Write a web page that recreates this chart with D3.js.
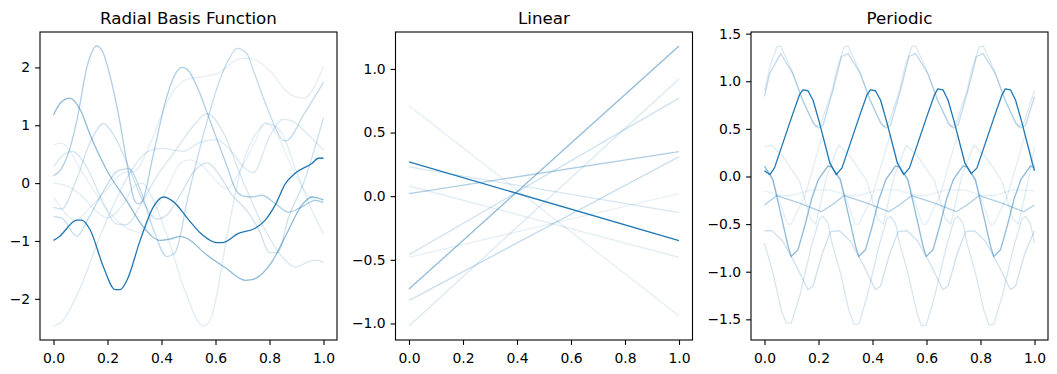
<!DOCTYPE html>
<html>
<head>
<meta charset="utf-8">
<script src="https://cdn.jsdelivr.net/npm/d3@7"></script>
<style>
  body { margin: 0; background: #fff; }
  text { font-family: "DejaVu Sans", sans-serif; }
</style>
</head>
<body>
<svg id="chart"></svg>
<script>
// sample colour (matplotlib C0) and per-sample opacity
const sampleColor = "#1f77b4";
const sampleAlpha = [1, 0.5, 0.36, 0.27, 0.22, 0.18, 0.16, 0.14, 0.12, 0.11];

const panelTitles = ["Radial Basis Function", "Linear", "Periodic"];
const xTicks = [0, 0.2, 0.4, 0.6, 0.8, 1.0];
const rbfTicks = [-2, -1, 0, 1, 2];
const linearTicks = [-1.0, -0.5, 0.0, 0.5, 1.0];
const periodicTicks = [-1.5, -1.0, -0.5, 0.0, 0.5, 1.0, 1.5];

// RBF samples, [x, f(x)], darkest first
const rbf0 = [[0,-0.99],[0.02,-0.93],[0.087,-0.64],[0.105,-0.64],[0.136,-0.81],[0.185,-1.45],[0.228,-1.84],[0.247,-1.84],[0.272,-1.68],[0.321,-0.99],[0.37,-0.41],[0.407,-0.24],[0.444,-0.32],[0.5,-0.63],[0.55,-0.89],[0.605,-1.03],[0.624,-1.03],[0.685,-0.87],[0.747,-0.78],[0.784,-0.64],[0.821,-0.38],[0.86,0.0],[0.895,0.17],[0.957,0.34],[0.981,0.43],[1,0.43]];
const rbf1 = [[0,1.18],[0.025,1.38],[0.06,1.47],[0.1,1.26],[0.136,0.83],[0.2,0.2],[0.27,-0.3],[0.333,-0.76],[0.395,-0.99],[0.43,-0.97],[0.469,-0.92],[0.5,-0.97],[0.562,-1.22],[0.636,-1.46],[0.71,-1.68],[0.734,-1.67],[0.809,-1.36],[0.858,-0.93],[0.92,-0.38],[0.957,-0.24],[0.98,-0.26],[1,-0.29]];
const rbf2 = [[0,0.13],[0.025,0.22],[0.05,0.45],[0.087,1.09],[0.124,2.01],[0.16,2.37],[0.185,2.24],[0.21,1.84],[0.247,1.03],[0.272,0.34],[0.3,-0.3],[0.315,-0.36],[0.33,-0.3],[0.37,0.5],[0.42,1.5],[0.457,1.93],[0.475,2.0],[0.494,1.97],[0.537,1.61],[0.574,1.15],[0.611,0.69],[0.648,0.22],[0.673,-0.1],[0.7,-0.22],[0.735,-0.24],[0.772,-0.21],[0.821,-0.35],[0.87,-0.5],[0.92,-0.41],[0.969,-0.3],[1,-0.33]];
const rbf3 = [[0,-0.58],[0.03,-0.6],[0.086,-0.92],[0.13,-0.6],[0.19,-0.1],[0.24,0.22],[0.28,0.25],[0.32,-0.1],[0.37,-0.8],[0.42,-1.27],[0.45,-1.2],[0.5,-0.2],[0.56,0.92],[0.611,1.72],[0.648,2.13],[0.68,2.33],[0.716,2.24],[0.74,1.95],[0.795,1.26],[0.85,0.74],[0.86,0.73],[0.93,1.21],[1,1.74]];
const rbf4 = [[0,-0.42],[0.03,-0.45],[0.08,0.0],[0.14,0.75],[0.185,1.03],[0.22,0.85],[0.284,0.22],[0.33,-0.3],[0.383,-0.62],[0.42,-0.55],[0.47,-0.2],[0.52,0.2],[0.57,0.35],[0.62,0.1],[0.66,-0.2],[0.72,-0.5],[0.76,-0.8],[0.8,-1.2],[0.83,-1.2],[0.87,-0.6],[0.93,0.05],[1,1.13]];
const rbf5 = [[0,0.28],[0.04,0.5],[0.07,0.55],[0.12,0.3],[0.18,-0.3],[0.23,-0.7],[0.27,-0.72],[0.32,-0.4],[0.38,0.1],[0.45,0.55],[0.52,1.0],[0.57,1.2],[0.62,0.95],[0.7,0.05],[0.784,-0.81],[0.846,-1.27],[0.895,-1.45],[0.95,-1.35],[0.98,-1.33],[1,-1.38]];
const rbf6 = [[0,-2.47],[0.03,-2.4],[0.1,-1.8],[0.17,-0.95],[0.24,-0.2],[0.3,0.3],[0.35,0.55],[0.4,0.6],[0.48,0.55],[0.54,0.7],[0.6,0.75],[0.65,0.6],[0.7,0.3],[0.74,0.18],[0.8,0.8],[0.85,1.1],[0.88,1.08],[0.94,0.85],[1,0.57]];
const rbf7 = [[0,0.0],[0.05,-0.05],[0.1,-0.2],[0.15,-0.45],[0.2,-0.6],[0.26,-0.35],[0.3,-0.05],[0.33,0.0],[0.37,-0.3],[0.42,-0.9],[0.49,-1.9],[0.555,-2.47],[0.58,-2.37],[0.647,-0.81],[0.684,0.05],[0.75,0.86],[0.79,1.03],[0.84,0.9],[0.9,0.2],[0.95,-0.4],[1,-0.88]];
const rbf8 = [[0,-0.24],[0.04,-0.5],[0.08,-0.65],[0.13,-0.45],[0.2,-0.1],[0.26,0.18],[0.3,0.2],[0.36,0.7],[0.42,1.4],[0.487,1.78],[0.55,1.84],[0.61,1.9],[0.69,2.15],[0.72,2.16],[0.81,1.9],[0.86,1.6],[0.905,1.48],[0.93,1.47],[0.97,1.7],[1,2.02]];
const rbf9 = [[0,0.66],[0.025,0.69],[0.05,0.63],[0.087,0.34],[0.136,-0.03],[0.18,-0.35],[0.23,-0.62],[0.28,-0.8],[0.32,-0.85],[0.36,-0.6],[0.42,-0.1],[0.47,0.35],[0.5,0.4],[0.55,0.3],[0.6,0.05],[0.64,-0.1],[0.7,0.3],[0.76,0.85],[0.78,1.05],[0.82,0.9],[0.88,0.3],[0.94,-0.2],[1,-0.35]];

// Linear samples: values at x = 0 and x = 1
const linear0 = [[0,0.27],[1,-0.35]];
const linear1 = [[0,-0.73],[1,1.18]];
const linear2 = [[0,0.02],[1,0.35]];
const linear3 = [[0,-0.82],[1,0.31]];
const linear4 = [[0,-0.46],[1,0.77]];
const linear5 = [[0,0.23],[1,-0.13]];
const linear6 = [[0,-1.02],[1,0.92]];
const linear7 = [[0,0.08],[1,-0.48]];
const linear8 = [[0,0.71],[1,-0.94]];
const linear9 = [[0,-0.48],[1,0.02]];

// Periodic samples
const periodic0 = [[0,0.06],[0.02,0.02],[0.037,0.09],[0.068,0.35],[0.105,0.66],[0.13,0.86],[0.142,0.91],[0.161,0.9],[0.18,0.8],[0.204,0.56],[0.223,0.35],[0.242,0.14],[0.266,0.02],[0.287,0.09],[0.318,0.35],[0.355,0.66],[0.38,0.86],[0.392,0.91],[0.411,0.9],[0.43,0.8],[0.454,0.56],[0.473,0.35],[0.492,0.14],[0.516,0.02],[0.537,0.09],[0.568,0.35],[0.605,0.66],[0.63,0.86],[0.642,0.92],[0.661,0.91],[0.68,0.8],[0.704,0.56],[0.723,0.35],[0.742,0.14],[0.766,0.03],[0.787,0.09],[0.818,0.35],[0.855,0.66],[0.88,0.86],[0.892,0.92],[0.911,0.91],[0.93,0.8],[0.954,0.56],[0.973,0.35],[0.992,0.14],[1,0.06]];
const periodic1 = [[0,0.11],[0.031,-0.03],[0.068,-0.49],[0.087,-0.73],[0.099,-0.84],[0.124,-0.77],[0.149,-0.52],[0.174,-0.24],[0.2,-0.03],[0.235,0.11],[0.25,0.1],[0.281,-0.03],[0.318,-0.49],[0.337,-0.73],[0.349,-0.84],[0.374,-0.77],[0.399,-0.52],[0.424,-0.24],[0.45,-0.03],[0.485,0.11],[0.5,0.1],[0.531,-0.03],[0.568,-0.49],[0.587,-0.73],[0.599,-0.84],[0.624,-0.77],[0.649,-0.52],[0.674,-0.24],[0.7,-0.03],[0.735,0.11],[0.75,0.1],[0.781,-0.03],[0.818,-0.49],[0.837,-0.73],[0.849,-0.84],[0.874,-0.77],[0.899,-0.52],[0.924,-0.24],[0.95,-0.03],[0.985,0.11],[1,0.09]];
const periodic2 = [[0,-0.3],[0.045,-0.2],[0.13,-0.28],[0.21,-0.37],[0.25,-0.3],[0.295,-0.2],[0.38,-0.28],[0.46,-0.37],[0.5,-0.3],[0.545,-0.2],[0.63,-0.28],[0.71,-0.37],[0.75,-0.3],[0.795,-0.2],[0.88,-0.28],[0.96,-0.37],[1,-0.3]];
const periodic3 = [[0,0.84],[0.019,1.08],[0.06,1.29],[0.105,1.08],[0.142,0.8],[0.18,0.56],[0.2,0.51],[0.217,0.54],[0.254,0.91],[0.285,1.26],[0.31,1.29],[0.355,1.08],[0.392,0.8],[0.43,0.56],[0.45,0.51],[0.467,0.54],[0.504,0.91],[0.535,1.26],[0.56,1.29],[0.605,1.08],[0.642,0.8],[0.68,0.56],[0.7,0.51],[0.717,0.54],[0.754,0.91],[0.785,1.26],[0.81,1.29],[0.855,1.08],[0.892,0.8],[0.93,0.56],[0.95,0.51],[0.967,0.54],[1,0.84]];
const periodic4 = [[0,-0.57],[0.028,-0.57],[0.068,-0.68],[0.118,-0.94],[0.161,-1.19],[0.18,-1.15],[0.215,-0.8],[0.245,-0.58],[0.278,-0.57],[0.318,-0.68],[0.368,-0.94],[0.411,-1.19],[0.43,-1.15],[0.465,-0.8],[0.495,-0.58],[0.528,-0.57],[0.568,-0.68],[0.618,-0.94],[0.661,-1.19],[0.68,-1.15],[0.715,-0.8],[0.745,-0.58],[0.778,-0.57],[0.818,-0.68],[0.868,-0.94],[0.911,-1.19],[0.93,-1.15],[0.965,-0.8],[1,-0.57]];
const periodic5 = [[0,-0.7],[0.031,-1.01],[0.062,-1.4],[0.081,-1.54],[0.099,-1.54],[0.13,-1.26],[0.174,-0.73],[0.204,-0.44],[0.217,-0.42],[0.235,-0.49],[0.25,-0.7],[0.281,-1.01],[0.312,-1.4],[0.331,-1.55],[0.349,-1.55],[0.38,-1.26],[0.424,-0.73],[0.454,-0.44],[0.467,-0.42],[0.485,-0.49],[0.5,-0.7],[0.531,-1.01],[0.562,-1.4],[0.581,-1.57],[0.599,-1.56],[0.63,-1.26],[0.674,-0.73],[0.704,-0.44],[0.717,-0.42],[0.735,-0.49],[0.75,-0.7],[0.781,-1.01],[0.812,-1.4],[0.831,-1.56],[0.849,-1.55],[0.88,-1.26],[0.924,-0.73],[0.954,-0.44],[0.967,-0.42],[0.985,-0.49],[1,-0.7]];
const periodic6 = [[0,0.9],[0.02,1.15],[0.045,1.36],[0.06,1.37],[0.1,1.12],[0.14,0.8],[0.19,0.52],[0.21,0.56],[0.25,0.9],[0.27,1.15],[0.295,1.36],[0.31,1.37],[0.35,1.12],[0.39,0.8],[0.44,0.52],[0.46,0.56],[0.5,0.9],[0.52,1.15],[0.545,1.36],[0.56,1.37],[0.6,1.12],[0.64,0.8],[0.69,0.52],[0.71,0.56],[0.75,0.9],[0.77,1.15],[0.795,1.36],[0.81,1.37],[0.85,1.12],[0.89,0.8],[0.94,0.52],[0.96,0.56],[1,0.9]];
const periodic7 = [[0,0.31],[0.025,0.33],[0.068,0.21],[0.13,-0.05],[0.17,-0.45],[0.19,-0.5],[0.23,0.0],[0.275,0.33],[0.318,0.21],[0.38,-0.05],[0.42,-0.45],[0.44,-0.5],[0.48,0.0],[0.525,0.33],[0.568,0.21],[0.63,-0.05],[0.67,-0.45],[0.69,-0.5],[0.73,0.0],[0.775,0.33],[0.818,0.21],[0.88,-0.05],[0.92,-0.45],[0.94,-0.5],[0.98,0.0],[1,0.31]];
const periodic8 = [[0,0.1],[0.03,-0.05],[0.085,-0.5],[0.1,-0.5],[0.15,-0.2],[0.215,0.44],[0.25,0.1],[0.28,-0.05],[0.335,-0.5],[0.35,-0.5],[0.4,-0.2],[0.465,0.44],[0.5,0.1],[0.53,-0.05],[0.585,-0.5],[0.6,-0.5],[0.65,-0.2],[0.715,0.44],[0.75,0.1],[0.78,-0.05],[0.835,-0.5],[0.85,-0.5],[0.9,-0.2],[0.965,0.44],[1,0.1]];
const periodic9 = [[0,-0.15],[0.06,-0.2],[0.1,-0.2],[0.17,-0.14],[0.24,-0.14],[0.31,-0.2],[0.35,-0.2],[0.42,-0.14],[0.49,-0.14],[0.56,-0.2],[0.6,-0.2],[0.67,-0.14],[0.74,-0.14],[0.81,-0.2],[0.85,-0.2],[0.92,-0.14],[1,-0.15]];

const rbfSamples = [rbf0, rbf1, rbf2, rbf3, rbf4, rbf5, rbf6, rbf7, rbf8, rbf9];
const linearSamples = [linear0, linear1, linear2, linear3, linear4, linear5, linear6, linear7, linear8, linear9];
const periodicSamples = [periodic0, periodic1, periodic2, periodic3, periodic4, periodic5, periodic6, periodic7, periodic8, periodic9];

// Layout
const width = 1057;
const height = 374;
const panelLefts = [40, 395.5, 751];
const panelWidth = 297;
const panelTop = 32;
const panelHeight = 308;
const tickLen = 4.9;
const fontSize = 13.9;

const svg = d3.select("#chart").attr("width", width).attr("height", height);

function paddedDomain(samples) {
    const all = samples.flat().map(d => d[1]);
    const lo = d3.min(all), hi = d3.max(all);
    const pad = (hi - lo) * 0.05;
    return [lo - pad, hi + pad];
}

function drawPanel(i, samples, yTicks, yFormat, curve) {
    const g = svg.append("g")
        .attr("transform", `translate(${panelLefts[i]},${panelTop})`);

    const x = d3.scaleLinear().domain([-0.05, 1.05]).range([0, panelWidth]);
    const y = d3.scaleLinear().domain(paddedDomain(samples)).range([panelHeight, 0]);

    const line = d3.line()
        .x(d => x(d[0]))
        .y(d => y(d[1]))
        .curve(curve);

    // lightest first so the dark sample sits on top
    d3.range(samples.length).reverse().forEach(k => {
        g.append("path")
            .attr("d", line(samples[k]))
            .attr("fill", "none")
            .attr("stroke", sampleColor)
            .attr("stroke-opacity", sampleAlpha[k])
            .attr("stroke-width", 1.3)
            .attr("stroke-linejoin", "round");
    });

    // frame
    g.append("rect")
        .attr("width", panelWidth)
        .attr("height", panelHeight)
        .attr("fill", "none")
        .attr("stroke", "#000")
        .attr("stroke-width", 1.1);

    const xAxis = g.append("g")
        .attr("transform", `translate(0,${panelHeight})`)
        .call(d3.axisBottom(x).tickValues(xTicks).tickFormat(d3.format(".1f"))
            .tickSize(tickLen).tickPadding(tickLen));
    xAxis.select(".domain").remove();
    xAxis.selectAll("text").attr("dy", "0.93em");

    const yAxis = g.append("g")
        .call(d3.axisLeft(y).tickValues(yTicks).tickFormat(d3.format(yFormat))
            .tickSize(tickLen).tickPadding(tickLen));
    yAxis.select(".domain").remove();

    [xAxis, yAxis].forEach(ax => {
        ax.selectAll("line").attr("stroke-width", 1.1);
        ax.selectAll("text")
            .attr("font-size", fontSize)
            .attr("font-family", "DejaVu Sans, sans-serif")
            .attr("fill", "#000");
    });

    g.append("text")
        .attr("x", panelWidth / 2)
        .attr("y", -8.5)
        .attr("text-anchor", "middle")
        .attr("font-size", 16.7)
        .attr("fill", "#000")
        .text(panelTitles[i]);
}

drawPanel(0, rbfSamples, rbfTicks, "d", d3.curveMonotoneX);
drawPanel(1, linearSamples, linearTicks, ".1f", d3.curveLinear);
drawPanel(2, periodicSamples, periodicTicks, ".1f", d3.curveLinear);
</script>
</body>
</html>
